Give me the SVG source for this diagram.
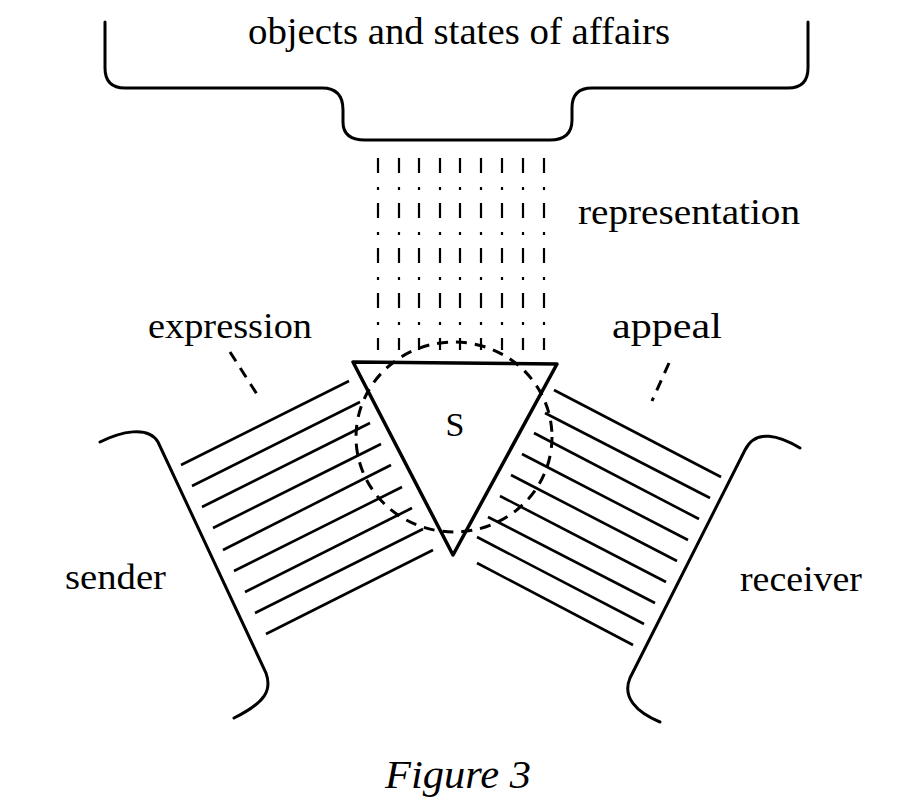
<svg xmlns="http://www.w3.org/2000/svg" width="916" height="810" viewBox="0 0 916 810">
<style>
text{font-family:"Liberation Serif","Times New Roman",serif;fill:#000}
.s{fill:none;stroke:#000;stroke-width:3;stroke-linecap:round}
.h{stroke:#000;stroke-width:2.6}
.d{fill:none;stroke:#000;stroke-width:3;stroke-dasharray:11 8}
.dot{stroke:#000;stroke-width:2.2;stroke-dasharray:15 14 3 13}
</style>
<rect width="916" height="810" fill="#fff"/>
<g id="objects">
<path class="s" d="M105,22 L105,68 Q105,88 125,88 L322,88 Q343,88 343,110 L343,122 Q343,140 365,140 L550,140 Q572,140 572,120 L572,108 Q572,88 592,88 L788,88 Q808,88 808,68 L808,22"/>
<text x="248" y="44" font-size="37" textLength="422" lengthAdjust="spacingAndGlyphs">objects and states of affairs</text>
</g>
<g id="connectors">
<g id="representation-rays">
<line class="dot" x1="378" y1="158" x2="378" y2="350"/>
<line class="dot" x1="399" y1="158" x2="399" y2="350"/>
<line class="dot" x1="419" y1="158" x2="419" y2="350"/>
<line class="dot" x1="440" y1="158" x2="440" y2="350"/>
<line class="dot" x1="460" y1="158" x2="460" y2="350"/>
<line class="dot" x1="481" y1="158" x2="481" y2="350"/>
<line class="dot" x1="502" y1="158" x2="502" y2="350"/>
<line class="dot" x1="523" y1="158" x2="523" y2="350"/>
<line class="dot" x1="544" y1="158" x2="544" y2="350"/>
</g>
<g id="expression-rays">
<line class="h" x1="181" y1="465" x2="349" y2="381"/>
<line class="h" x1="192" y1="486" x2="360" y2="402"/>
<line class="h" x1="202" y1="507" x2="370" y2="423"/>
<line class="h" x1="213" y1="528" x2="381" y2="444"/>
<line class="h" x1="223" y1="550" x2="391" y2="465"/>
<line class="h" x1="234" y1="571" x2="402" y2="487"/>
<line class="h" x1="245" y1="592" x2="412" y2="508"/>
<line class="h" x1="255" y1="613" x2="423" y2="529"/>
<line class="h" x1="266" y1="634" x2="433" y2="550"/>
</g>
<g id="appeal-rays">
<line class="h" x1="554" y1="390" x2="721" y2="477"/>
<line class="h" x1="545" y1="413" x2="710" y2="498"/>
<line class="h" x1="534" y1="433" x2="699" y2="519"/>
<line class="h" x1="522" y1="454" x2="688" y2="540"/>
<line class="h" x1="511" y1="475" x2="677" y2="561"/>
<line class="h" x1="500" y1="496" x2="666" y2="582"/>
<line class="h" x1="488" y1="517" x2="655" y2="603"/>
<line class="h" x1="477" y1="537" x2="644" y2="624"/>
<line class="h" x1="477" y1="563" x2="633" y2="645"/>
</g>
<line class="d" x1="230" y1="352" x2="260" y2="399"/>
<line class="d" x1="669" y1="363" x2="652" y2="401"/>
</g>
<g id="sign">
<polygon points="353,362 557,364 453,555" fill="#fff" stroke="#000" stroke-width="3.5" stroke-linejoin="round"/>
<ellipse class="d" cx="454" cy="437" rx="98" ry="95"/>
<text x="455" y="436" font-size="34" text-anchor="middle">S</text>
</g>
<g id="sender">
<path class="s" d="M100,442 C120,432 148,425 158,442 L266,673 C272,690 266,702 234,718"/>
<text x="65" y="589" font-size="36" textLength="101" lengthAdjust="spacingAndGlyphs">sender</text>
</g>
<g id="receiver">
<path class="s" d="M800,448 C780,436 756,428 745,450 L630,678 C622,697 636,712 660,722"/>
<text x="740" y="591" font-size="36" textLength="122" lengthAdjust="spacingAndGlyphs">receiver</text>
</g>
<text x="578" y="224" font-size="36" textLength="222" lengthAdjust="spacingAndGlyphs">representation</text>
<text x="148" y="338" font-size="36" textLength="164" lengthAdjust="spacingAndGlyphs">expression</text>
<text x="612" y="338" font-size="36" textLength="110" lengthAdjust="spacingAndGlyphs">appeal</text>
<text x="385" y="788" font-size="40" font-style="italic" textLength="146" lengthAdjust="spacingAndGlyphs">Figure 3</text>
</svg>
